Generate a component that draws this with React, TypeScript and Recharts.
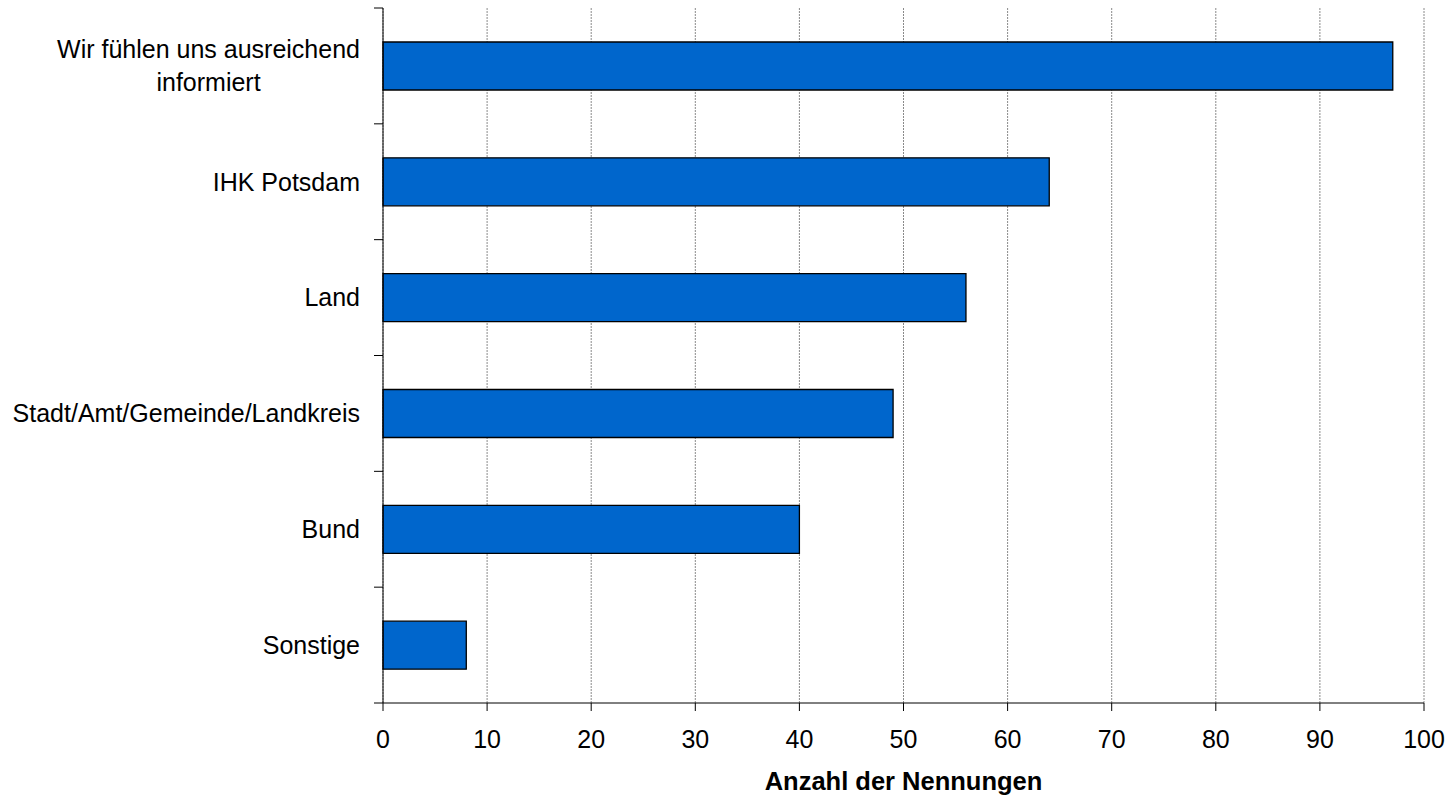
import { BarChart, Bar, XAxis, YAxis, CartesianGrid } from 'recharts'

const categories = [
  'Wir fühlen uns ausreichend\ninformiert',
  'IHK Potsdam',
  'Land',
  'Stadt/Amt/Gemeinde/Landkreis',
  'Bund',
  'Sonstige',
]
const counts = [97, 64, 56, 49, 40, 8]
const xTicks = [0, 10, 20, 30, 40, 50, 60, 70, 80, 90, 100]

const FONT = '"Liberation Sans", Arial, sans-serif'
const Y_TICK_SIZE = 9
const Y_TICK_MARGIN = 14
const LABEL_SIZE = 25
const LINE_GAP = 33

const data = categories.map((name, i) => ({ name, value: counts[i] }))

let canvas: HTMLCanvasElement | null = null
function textWidth(s: string) {
  if (!canvas) canvas = document.createElement('canvas')
  const ctx = canvas.getContext('2d')
  if (!ctx) return s.length * LABEL_SIZE * 0.5
  ctx.font = `${LABEL_SIZE}px ${FONT}`
  return ctx.measureText(s).width
}

function CategoryTick(props: any) {
  const { x, y, payload, index, visibleTicksCount } = props
  const lines: string[] = String(payload.value).split('\n')
  const axisX = x + Y_TICK_SIZE + Y_TICK_MARGIN
  const half = payload.offset ?? 0
  const widest = Math.max(...lines.map(textWidth))
  const firstDy = 8.8 - ((lines.length - 1) * LINE_GAP) / 2
  return (
    <g>
      <line x1={axisX - Y_TICK_SIZE} x2={axisX} y1={y - half} y2={y - half} stroke="#000" />
      {index === visibleTicksCount - 1 && (
        <line x1={axisX - Y_TICK_SIZE} x2={axisX} y1={y + half} y2={y + half} stroke="#000" />
      )}
      {lines.map((line, i) => {
        const single = lines.length === 1
        return (
          <text
            key={i}
            x={single ? x : x - widest / 2}
            y={y + firstDy + i * LINE_GAP}
            textAnchor={single ? 'end' : 'middle'}
            fontSize={LABEL_SIZE}
            fontFamily={FONT}
            fill="#000"
          >
            {line}
          </text>
        )
      })}
    </g>
  )
}

export default function App() {
  return (
    <div style={{ position: 'absolute', left: 0, top: 0, background: '#fff' }}>
      <BarChart
        width={1455}
        height={795}
        data={data}
        layout="vertical"
        margin={{ top: 8, right: 31, left: 0, bottom: 0 }}
        style={{ fontFamily: FONT }}
      >
        <CartesianGrid horizontal={false} stroke="#8a8a8a" strokeDasharray="2 1" />
        <XAxis
          type="number"
          domain={[0, 100]}
          ticks={xTicks}
          height={92}
          tickSize={8}
          tickMargin={19}
          stroke="#000"
          tick={{ fill: '#000', fontSize: 25 }}
          label={{
            value: 'Anzahl der Nennungen',
            position: 'insideBottom',
            offset: 5,
            fontWeight: 'bold',
            fontSize: 25.5,
            fill: '#000',
          }}
        />
        <YAxis
          type="category"
          dataKey="name"
          width={383}
          stroke="#000"
          tickLine={false}
          tickSize={Y_TICK_SIZE}
          tickMargin={Y_TICK_MARGIN}
          interval={0}
          tick={<CategoryTick />}
        />
        <Bar
          dataKey="value"
          fill="#0066cc"
          stroke="#000"
          strokeWidth={1.3}
          barSize={48}
          isAnimationActive={false}
        />
      </BarChart>
    </div>
  )
}
